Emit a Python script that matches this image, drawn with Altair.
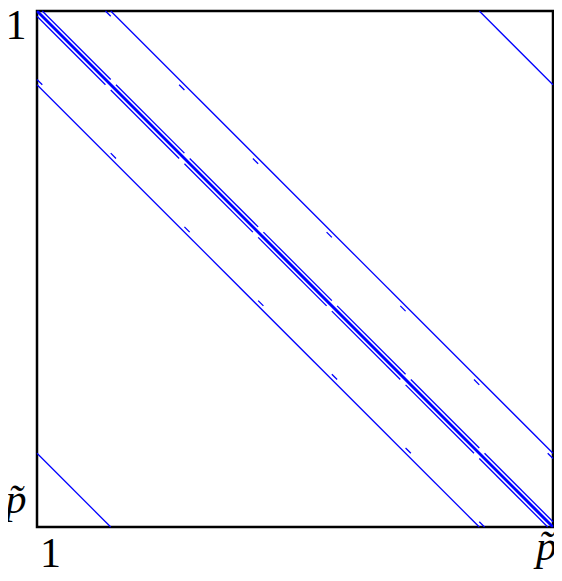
import altair as alt
import pandas as pd

# Sparsity pattern: 7 blocks of size 70, p~ = 490
P_TILDE = 490
TICK_VALUES = [1, 490]

# Each diagonal segment: (first row, last row, column offset = col - row)
main_diagonals = [(1, 490, 0), (1, 489, 1), (2, 490, -1)]
inner_upper = [(1, 65, 5), (71, 135, 5), (141, 205, 5), (211, 275, 5),
               (281, 345, 5), (351, 415, 5), (421, 485, 5)]
inner_lower = [(6, 70, -5), (76, 140, -5), (146, 210, -5), (216, 280, -5),
               (286, 350, -5), (356, 420, -5), (426, 490, -5)]
block_off = [(1, 420, 70), (71, 490, -70)]
corners = [(1, 70, 420), (421, 490, -420)]
wrap_upper = [(1, 5, 65), (71, 75, 65), (141, 145, 65), (211, 215, 65),
              (281, 285, 65), (351, 355, 65), (421, 425, 65)]
wrap_lower = [(66, 70, -65), (136, 140, -65), (206, 210, -65), (276, 280, -65),
              (346, 350, -65), (416, 420, -65), (486, 490, -65)]

rows = []
for name, group in [("main", main_diagonals), ("band", inner_upper), ("band", inner_lower),
                    ("band", block_off), ("band", corners),
                    ("band", wrap_upper), ("band", wrap_lower)]:
    for r0, r1, off in group:
        rows.append({"kind": name, "c0": r0 + off - 0.5, "r0": r0 - 0.5,
                     "c1": r1 + off + 0.5, "r1": r1 + 0.5})
df = pd.DataFrame(rows)

is_one = "datum.value == 1"
FONT = "Liberation Serif"
FS = 42

x_axis = alt.Axis(
    values=TICK_VALUES,
    labelExpr="datum.value == 1 ? '1' : 'p\u0303'",
    ticks=False, domain=False, grid=False, title=None,
    labelFont=FONT, labelFontSize=FS, labelColor="black",
    labelFlush=False, labelAlign="center", labelBaseline="alphabetic",
    labelFontStyle={"condition": {"test": is_one, "value": "normal"}, "value": "italic"},
    labelPadding={"condition": {"test": is_one, "value": 39}, "value": 32},
    labelOffset={"condition": {"test": is_one, "value": 12.5}, "value": -6.5},
)
y_axis = alt.Axis(
    values=TICK_VALUES,
    labelExpr="datum.value == 1 ? '1' : 'p\u0303'",
    ticks=False, domain=False, grid=False, title=None,
    labelFont=FONT, labelFontSize=FS, labelColor="black",
    labelFlush=False, labelAlign="right", labelBaseline="alphabetic",
    labelFontStyle={"condition": {"test": is_one, "value": "normal"}, "value": "italic"},
    labelPadding=11,
    labelOffset={"condition": {"test": is_one, "value": 26.5}, "value": -13.5},
)

chart = alt.Chart(df).mark_rule(color="#0000ff").encode(
    x=alt.X("c0:Q", scale=alt.Scale(domain=[0.5, P_TILDE + 0.5], nice=False, zero=False), axis=x_axis),
    x2="c1:Q",
    y=alt.Y("r0:Q", scale=alt.Scale(domain=[0.5, P_TILDE + 0.5], nice=False, zero=False, reverse=True), axis=y_axis),
    y2="r1:Q",
    strokeWidth=alt.condition("datum.kind == 'main'", alt.value(1.5), alt.value(1.3)),
).properties(
    width=516, height=516,
    autosize=alt.AutoSizeParams(type="none"),
    padding={"left": 29, "top": 3, "right": 1, "bottom": 42},
).configure_view(stroke="black", strokeWidth=2.5)

chart.save("out.html", embed_options={"renderer": "svg", "actions": False})
